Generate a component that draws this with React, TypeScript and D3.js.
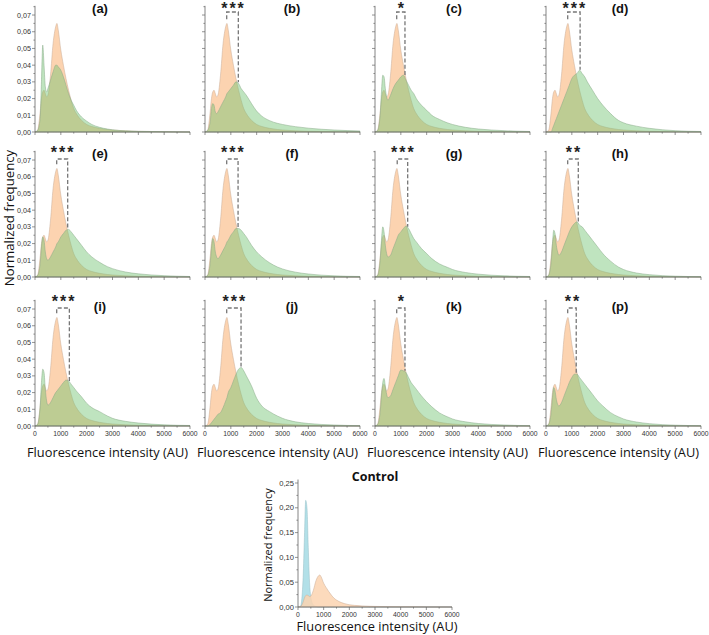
import React from 'react';
import * as d3 from 'd3';

// ---------- DATA ----------
const X_AU = [0, 100, 200, 250, 300, 350, 400, 450, 500, 600, 700, 800, 850, 900, 1000, 1100, 1200, 1300, 1400, 1500, 1600, 1800, 2000, 2200, 2500, 2800, 3000, 3500, 4000, 5000, 6000];

const ORANGE = [0, 0.001, 0.012, 0.020, 0.024, 0.025, 0.023, 0.021, 0.022, 0.034, 0.053, 0.063, 0.065, 0.061, 0.049, 0.040, 0.032, 0.025, 0.019, 0.014, 0.011, 0.007, 0.0045, 0.0033, 0.0022, 0.0015, 0.0012, 0.0007, 0.0004, 0.0002, 0];

const GREEN_A = [0, 0.001, 0.008, 0.030, 0.052, 0.040, 0.027, 0.024, 0.026, 0.031, 0.036, 0.040, 0.040, 0.039, 0.037, 0.033, 0.028, 0.023, 0.019, 0.016, 0.013, 0.009, 0.0065, 0.0045, 0.0028, 0.0018, 0.0013, 0.0007, 0.0004, 0.0002, 0];
const GREEN_B = [0, 0.001, 0.006, 0.014, 0.017, 0.016, 0.012, 0.011, 0.012, 0.015, 0.018, 0.021, 0.023, 0.024, 0.026, 0.028, 0.030, 0.029, 0.026, 0.024, 0.022, 0.017, 0.0125, 0.0095, 0.0068, 0.0052, 0.0045, 0.0032, 0.0023, 0.0012, 0.0006];
const GREEN_C = [0, 0.001, 0.010, 0.024, 0.034, 0.033, 0.026, 0.021, 0.019, 0.022, 0.026, 0.029, 0.030, 0.031, 0.033, 0.034, 0.031, 0.028, 0.025, 0.023, 0.020, 0.016, 0.013, 0.010, 0.0075, 0.0055, 0.0045, 0.0028, 0.0018, 0.0008, 0.0003];
const GREEN_D = [0, 0, 0, 0.002, 0.004, 0.006, 0.008, 0.010, 0.012, 0.016, 0.020, 0.024, 0.026, 0.028, 0.032, 0.034, 0.035, 0.037, 0.035, 0.033, 0.030, 0.025, 0.020, 0.016, 0.011, 0.007, 0.0055, 0.0035, 0.0022, 0.0008, 0.0003];
const GREEN_E = [0, 0.001, 0.008, 0.018, 0.024, 0.022, 0.015, 0.011, 0.010, 0.012, 0.015, 0.018, 0.020, 0.021, 0.024, 0.026, 0.028, 0.0285, 0.027, 0.025, 0.023, 0.019, 0.015, 0.012, 0.0088, 0.0062, 0.005, 0.003, 0.0019, 0.0008, 0.0003];
const GREEN_F = [0, 0.001, 0.008, 0.017, 0.023, 0.021, 0.015, 0.012, 0.011, 0.013, 0.016, 0.019, 0.021, 0.022, 0.025, 0.027, 0.029, 0.029, 0.028, 0.026, 0.024, 0.019, 0.015, 0.012, 0.0085, 0.006, 0.0048, 0.0029, 0.0018, 0.0007, 0.0003];
const GREEN_G = [0, 0.001, 0.010, 0.022, 0.030, 0.027, 0.019, 0.014, 0.012, 0.013, 0.017, 0.021, 0.023, 0.025, 0.027, 0.029, 0.0305, 0.029, 0.026, 0.023, 0.021, 0.017, 0.014, 0.011, 0.0078, 0.0058, 0.0045, 0.0027, 0.0017, 0.0007, 0.0003];
const GREEN_H = [0, 0.001, 0.009, 0.020, 0.028, 0.026, 0.019, 0.015, 0.013, 0.015, 0.019, 0.023, 0.025, 0.027, 0.030, 0.032, 0.033, 0.031, 0.030, 0.028, 0.026, 0.022, 0.018, 0.014, 0.0095, 0.006, 0.0045, 0.0024, 0.0014, 0.0005, 0.0002];
const GREEN_I = [0, 0.001, 0.012, 0.026, 0.034, 0.032, 0.022, 0.015, 0.0125, 0.014, 0.017, 0.020, 0.021, 0.022, 0.024, 0.026, 0.0275, 0.027, 0.025, 0.023, 0.021, 0.0175, 0.0136, 0.011, 0.0086, 0.006, 0.0046, 0.0028, 0.0018, 0.0007, 0.0003];
const GREEN_J = [0, 0, 0.001, 0.002, 0.003, 0.004, 0.005, 0.006, 0.007, 0.008, 0.011, 0.015, 0.017, 0.020, 0.023, 0.027, 0.031, 0.034, 0.035, 0.033, 0.030, 0.024, 0.0166, 0.012, 0.0086, 0.006, 0.0046, 0.0025, 0.0015, 0.0006, 0.0002];
const GREEN_K = [0, 0.001, 0.008, 0.018, 0.026, 0.0285, 0.024, 0.019, 0.017, 0.018, 0.022, 0.026, 0.028, 0.030, 0.0335, 0.033, 0.032, 0.029, 0.026, 0.024, 0.022, 0.018, 0.0145, 0.0115, 0.0078, 0.0055, 0.0042, 0.0025, 0.0015, 0.0006, 0.0002];
const GREEN_P = [0, 0.001, 0.008, 0.017, 0.023, 0.021, 0.016, 0.013, 0.012, 0.014, 0.018, 0.022, 0.024, 0.026, 0.029, 0.031, 0.031, 0.029, 0.027, 0.025, 0.023, 0.019, 0.015, 0.012, 0.008, 0.0055, 0.0042, 0.0024, 0.0014, 0.0005, 0.0002];

const CONTROL_BLUE = [0, 0.002, 0.06, 0.14, 0.215, 0.20, 0.12, 0.05, 0.02, 0.004, 0.001, 0, 0, 0, 0, 0, 0, 0, 0, 0, 0, 0, 0, 0, 0, 0, 0, 0, 0, 0, 0];
const CONTROL_ORANGE = [0, 0.001, 0.010, 0.018, 0.023, 0.024, 0.023, 0.021, 0.022, 0.034, 0.053, 0.063, 0.0645, 0.061, 0.048, 0.039, 0.031, 0.024, 0.018, 0.014, 0.011, 0.007, 0.0045, 0.0033, 0.0022, 0.0015, 0.0012, 0.0007, 0.0004, 0.0002, 0];

const PANEL_LABELS = ['(a)', '(b)', '(c)', '(d)', '(e)', '(f)', '(g)', '(h)', '(i)', '(j)', '(k)', '(p)'];
const PANEL_GREENS = [GREEN_A, GREEN_B, GREEN_C, GREEN_D, GREEN_E, GREEN_F, GREEN_G, GREEN_H, GREEN_I, GREEN_J, GREEN_K, GREEN_P];
const PANEL_STARS = ['', '***', '*', '***', '***', '***', '***', '**', '***', '***', '*', '**'];
const BRACKET_LEFT = [0, 840, 840, 840, 840, 840, 860, 840, 840, 840, 840, 840];
const BRACKET_RIGHT = [0, 1290, 1160, 1320, 1265, 1280, 1265, 1250, 1330, 1395, 1160, 1170];

const X_TICKS = [0, 1000, 2000, 3000, 4000, 5000, 6000];
const Y_TICKS = [0, 0.01, 0.02, 0.03, 0.04, 0.05, 0.06, 0.07];
const CONTROL_Y_TICKS = [0, 0.05, 0.10, 0.15, 0.20, 0.25];

// ---------- LAYOUT ----------
const COL_X0 = [35, 205, 375, 546];
const ROW_Y0 = [132, 277, 426];
const ROW_TITLE_Y = [12.5, 157.5, 310.5];
const ROW_STAR_Y = [14, 158, 307];
const ROW_BRACKET_Y = [12, 159, 308];
const PLOT_W = 155;
const PX_UNIT = 1671;

const TICK_FONT = "'Liberation Sans', Arial, sans-serif";
const LABEL_FONT = "'Open Sans', 'DejaVu Sans', sans-serif";
const AXIS_COLOR = '#666';
const ORANGE_FILL = '#fcd3b0';
const ORANGE_STROKE = '#c9ab95';
const GREEN_FILL = 'rgb(112,196,112)';
const GREEN_OPACITY = 0.45;
const GREEN_STROKE = '#86a886';

const fmtY = (v: number) => d3.format('.2f')(v).replace('.', ',');

function Panel({ idx }: { idx: number }) {
  const col = idx % 4;
  const row = Math.floor(idx / 4);
  const x0 = COL_X0[col];
  const y0 = ROW_Y0[row];
  const green = PANEL_GREENS[idx];
  const x = d3.scaleLinear().domain([0, 6000]).range([x0, x0 + PLOT_W]);
  const y = d3.scaleLinear().domain([0, 0.075]).range([y0, y0 - 0.075 * PX_UNIT]);
  const area = d3
    .area<number>()
    .x((_, i) => x(X_AU[i]))
    .y0(y0)
    .y1((d) => y(d))
    .curve(d3.curveMonotoneX);
  const yMinor = d3.range(0, 0.0751, 0.005);
  const xMinor = d3.range(0, 6001, 500);
  const stars = PANEL_STARS[idx];
  let bracket = null;
  if (stars) {
    const gi = d3.scaleLinear().domain(X_AU).range(green);
    const lx = x(BRACKET_LEFT[idx]);
    const rx = x(BRACKET_RIGHT[idx]);
    const top = ROW_BRACKET_Y[row];
    const rEnd = y(gi(BRACKET_RIGHT[idx])) - 1;
    bracket = (
      <g>
        <path
          d={`M${lx},${y(0.0675)} V${top} H${rx} V${rEnd}`}
          fill="none"
          stroke="#777"
          strokeWidth={1.3}
          strokeDasharray="4,2.2"
        />
        <text
          x={(lx + rx) / 2 + 1}
          y={ROW_STAR_Y[row]}
          textAnchor="middle"
          fontFamily={TICK_FONT}
          fontWeight="bold"
          fontSize={16}
          letterSpacing={2}
          fill="#222"
        >
          {stars}
        </text>
      </g>
    );
  }
  return (
    <g>
      <path d={area(ORANGE) || ''} fill={ORANGE_FILL} stroke={ORANGE_STROKE} strokeWidth={0.5} />
      <path d={area(green) || ''} fill={GREEN_FILL} fillOpacity={GREEN_OPACITY} stroke={GREEN_STROKE} strokeWidth={0.5} />
      {/* axes */}
      <line x1={x0} x2={x0} y1={y0} y2={y(0.0755)} stroke={AXIS_COLOR} strokeWidth={0.8} />
      <line x1={x0} x2={x0 + PLOT_W} y1={y0} y2={y0} stroke={AXIS_COLOR} strokeWidth={0.8} />
      {yMinor.map((v, i) => (
        <line key={'ym' + i} x1={x0} x2={x0 - (i % 2 === 0 ? 3 : 1.6)} y1={y(v)} y2={y(v)} stroke={AXIS_COLOR} strokeWidth={0.7} />
      ))}
      {xMinor.map((v, i) => (
        <line key={'xm' + i} x1={x(v)} x2={x(v)} y1={y0} y2={y0 + (i % 2 === 0 ? 3 : 1.6)} stroke={AXIS_COLOR} strokeWidth={0.7} />
      ))}
      {col === 0 &&
        Y_TICKS.map((v) => (
          <text key={'yl' + v} x={x0 - 4} y={y(v) + 2.5} textAnchor="end" fontFamily={TICK_FONT} fontSize={7.2} fill="#333">
            {fmtY(v)}
          </text>
        ))}
      {row === 2 &&
        X_TICKS.map((v) => (
          <text key={'xl' + v} x={x(v)} y={y0 + 10} textAnchor="middle" fontFamily={TICK_FONT} fontSize={6.8} fill="#333">
            {v}
          </text>
        ))}
      {row === 2 && (
        <text x={x0 + PLOT_W / 2 - 5} y={457} textAnchor="middle" fontFamily={LABEL_FONT} fontSize={12.8} fill="#111">
          Fluorescence intensity (AU)
        </text>
      )}
      <text
        x={[100, 292, 454, 620][col]}
        y={ROW_TITLE_Y[row]}
        textAnchor="middle"
        fontFamily={TICK_FONT}
        fontWeight="bold"
        fontSize={13}
        fill="#111"
      >
        {PANEL_LABELS[idx]}
      </text>
      {bracket}
    </g>
  );
}

function ControlPanel() {
  const x0 = 298;
  const y0 = 607;
  const x = d3.scaleLinear().domain([0, 6000]).range([x0, x0 + 154]);
  const y = d3.scaleLinear().domain([0, 0.25]).range([y0, 483]);
  const area = d3
    .area<number>()
    .x((_, i) => x(X_AU[i]))
    .y0(y0)
    .y1((d) => y(d))
    .curve(d3.curveMonotoneX);
  const yMinor = d3.range(0, 0.2501, 0.025);
  const xMinor = d3.range(0, 6001, 500);
  return (
    <g>
      <path d={area(CONTROL_BLUE) || ''} fill="#b2e0e8" stroke="#94bcc4" strokeWidth={0.5} />
      <path d={area(CONTROL_ORANGE) || ''} fill={ORANGE_FILL} fillOpacity={0.85} stroke={ORANGE_STROKE} strokeWidth={0.5} />
      <line x1={x0} x2={x0} y1={y0} y2={y(0.257)} stroke={AXIS_COLOR} strokeWidth={0.8} />
      <line x1={x0} x2={x(6000)} y1={y0} y2={y0} stroke={AXIS_COLOR} strokeWidth={0.8} />
      {yMinor.map((v, i) => (
        <line key={'cym' + i} x1={x0} x2={x0 - (i % 2 === 0 ? 3 : 1.6)} y1={y(v)} y2={y(v)} stroke={AXIS_COLOR} strokeWidth={0.7} />
      ))}
      {xMinor.map((v, i) => (
        <line key={'cxm' + i} x1={x(v)} x2={x(v)} y1={y0} y2={y0 + (i % 2 === 0 ? 3 : 1.6)} stroke={AXIS_COLOR} strokeWidth={0.7} />
      ))}
      {CONTROL_Y_TICKS.map((v) => (
        <text key={'cyl' + v} x={x0 - 4} y={y(v) + 2.6} textAnchor="end" fontFamily={TICK_FONT} fontSize={7.6} fill="#333">
          {fmtY(v)}
        </text>
      ))}
      {X_TICKS.map((v) => (
        <text key={'cxl' + v} x={x(v)} y={y0 + 10} textAnchor="middle" fontFamily={TICK_FONT} fontSize={6.8} fill="#333">
          {v}
        </text>
      ))}
      <text x={377} y={631} textAnchor="middle" fontFamily={LABEL_FONT} fontSize={12.8} fill="#111">
        Fluorescence intensity (AU)
      </text>
      <text
        transform={`translate(272,545) rotate(-90)`}
        textAnchor="middle"
        fontFamily={LABEL_FONT}
        fontSize={11}
        fill="#111"
      >
        Normalized frequency
      </text>
      <text x={375} y={481} textAnchor="middle" fontFamily={LABEL_FONT} fontWeight="bold" fontSize={12.5} fill="#111">
        Control
      </text>
    </g>
  );
}

export default function App() {
  return (
    <svg
      width={709}
      height={635}
      viewBox="0 0 709 635"
      style={{ position: 'absolute', left: 0, top: 0, background: '#fff' }}
    >
      <rect x={0} y={0} width={709} height={635} fill="#fff" />
      {PANEL_LABELS.map((_, i) => (
        <Panel key={i} idx={i} />
      ))}
      <text
        transform={`translate(13.5,218) rotate(-90)`}
        textAnchor="middle"
        fontFamily={LABEL_FONT}
        fontSize={13.2}
        fill="#111"
      >
        Normalized frequency
      </text>
      <ControlPanel />
    </svg>
  );
}
